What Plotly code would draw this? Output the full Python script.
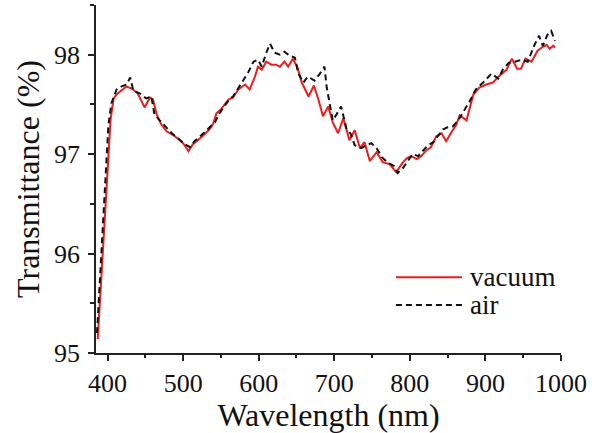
import plotly.graph_objects as go

# vacuum spectrum (red solid)
vac_wl = [387, 393, 399, 404, 408, 412, 418, 425, 432, 440, 449, 456, 460, 465,
          471, 478, 487, 496, 502, 507, 513, 524, 535, 540, 544, 550, 560, 566,
          573, 582, 588, 595, 599, 604, 610, 617, 623, 628, 634, 639, 645, 651,
          657, 666, 673, 679, 685, 692, 698, 705, 712, 720, 727, 734, 740, 747,
          756, 764, 773, 782, 790, 796, 802, 809, 815, 822, 828, 835, 842, 848,
          855, 861, 866, 875, 884, 892, 901, 910, 919, 928, 935, 942, 947, 953,
          961, 969, 976, 981, 985, 990, 992]
vac_T = [95.14, 95.95, 96.74, 97.35, 97.56, 97.60, 97.64, 97.68, 97.66, 97.61,
         97.47, 97.57, 97.55, 97.40, 97.30, 97.23, 97.19, 97.14, 97.09, 97.03,
         97.10, 97.17, 97.25, 97.31, 97.41, 97.45, 97.55, 97.57, 97.65, 97.70,
         97.65, 97.78, 97.88, 97.85, 97.93, 97.90, 97.90, 97.88, 97.93, 97.88,
         97.96, 97.88, 97.72, 97.58, 97.69, 97.55, 97.38, 97.48, 97.32, 97.21,
         97.36, 97.14, 97.24, 97.06, 97.12, 96.93, 97.02, 96.92, 96.90, 96.82,
         96.91, 96.96, 96.98, 96.95, 96.98, 97.04, 97.07, 97.18, 97.21, 97.13,
         97.22, 97.29, 97.39, 97.34, 97.60, 97.67, 97.70, 97.72, 97.79, 97.85,
         97.96, 97.86, 97.86, 97.96, 97.93, 98.04, 98.08, 98.10, 98.06, 98.09,
         98.07]

# air spectrum (black dashed)
air_wl = [386, 392, 397, 401, 405, 412, 418, 425, 430, 434, 443, 451, 458, 462,
          469, 476, 485, 493, 502, 509, 515, 524, 533, 542, 548, 556, 562, 566,
          573, 579, 586, 593, 599, 604, 610, 615, 621, 628, 634, 641, 648, 652,
          659, 665, 674, 681, 687, 690, 694, 698, 703, 709, 716, 722, 727, 736,
          742, 749, 756, 763, 770, 779, 784, 791, 798, 804, 811, 818, 824, 831,
          837, 844, 850, 857, 864, 872, 879, 888, 897, 908, 917, 923, 931, 939,
          948, 956, 965, 971, 976, 982, 987, 992]
air_T = [95.20, 96.00, 96.75, 97.28, 97.51, 97.65, 97.68, 97.70, 97.77, 97.64,
         97.61, 97.56, 97.58, 97.40, 97.34, 97.28, 97.21, 97.16, 97.10, 97.07,
         97.13, 97.19, 97.26, 97.32, 97.41, 97.50, 97.56, 97.58, 97.66, 97.74,
         97.82, 97.93, 97.95, 97.88, 98.02, 98.11, 98.02, 98.00, 98.03, 97.99,
         97.97, 97.82, 97.72, 97.78, 97.74, 97.81, 97.88, 97.67, 97.50, 97.34,
         97.40, 97.48, 97.26, 97.20, 97.09, 97.06, 97.09, 97.11, 97.06, 96.97,
         96.92, 96.88, 96.81, 96.86, 96.94, 97.00, 96.98, 97.04, 97.09, 97.12,
         97.18, 97.25, 97.27, 97.28, 97.34, 97.44, 97.53, 97.66, 97.72, 97.81,
         97.76, 97.85, 97.92, 97.93, 97.95, 97.93, 98.10, 98.19, 98.09, 98.20,
         98.24, 98.14]

names = ["vacuum", "air"]
colors = ["#ee1c1c", "#111111"]
dashes = ["solid", "6px,4px"]

font = "Liberation Serif, Times New Roman, serif"

fig = go.Figure()
fig.add_trace(go.Scatter(x=vac_wl, y=vac_T, mode="lines", name=names[0],
                         line=dict(color=colors[0], width=2, dash=dashes[0])))
fig.add_trace(go.Scatter(x=air_wl, y=air_T, mode="lines", name=names[1],
                         line=dict(color=colors[1], width=2, dash=dashes[1])))

# hand-made legend so the sample lines are as long as in the original
for i, nm in enumerate(names):
    ly = 0.218 - i * 0.08
    fig.add_shape(type="line", xref="paper", yref="paper",
                  x0=0.645, x1=0.787, y0=ly, y1=ly,
                  line=dict(color=colors[i], width=2, dash=dashes[i]))
    fig.add_annotation(xref="paper", yref="paper", x=0.80, y=ly,
                       text=nm, showarrow=False, xanchor="left", yanchor="middle",
                       font=dict(family=font, size=27, color="#111111"))

axis_style = dict(showline=True, linecolor="#222222", linewidth=1.5,
                  ticks="outside", ticklen=6, tickwidth=1.5, tickcolor="#222222",
                  showgrid=False, zeroline=False, mirror=False,
                  tickfont=dict(family=font, size=26, color="#111111"))

fig.update_layout(
    width=592, height=433,
    margin=dict(l=96, r=31, t=5, b=80),
    plot_bgcolor="white", paper_bgcolor="white",
    showlegend=False,
    xaxis=dict(range=[384.7, 1000], tick0=400, dtick=100,
               minor=dict(ticks="outside", dtick=50, ticklen=3, tickwidth=1.5,
                          tickcolor="#222222"),
               title=dict(text="Wavelength (nm)", standoff=8,
                          font=dict(family=font, size=32, color="#111111")),
               **axis_style),
    yaxis=dict(range=[95, 98.5], tick0=95, dtick=1, ticklabelstandoff=3,
               minor=dict(ticks="outside", dtick=0.5, ticklen=4, tickwidth=1.5,
                          tickcolor="#222222"),
               title=dict(text="Transmittance (%)", standoff=5,
                          font=dict(family=font, size=32, color="#111111")),
               **axis_style),
)

# drop the browser's default page margin so the figure sits at the corner
fig.write_html("out.html", config={"displayModeBar": False},
               post_script="document.body.style.margin='0px';")
